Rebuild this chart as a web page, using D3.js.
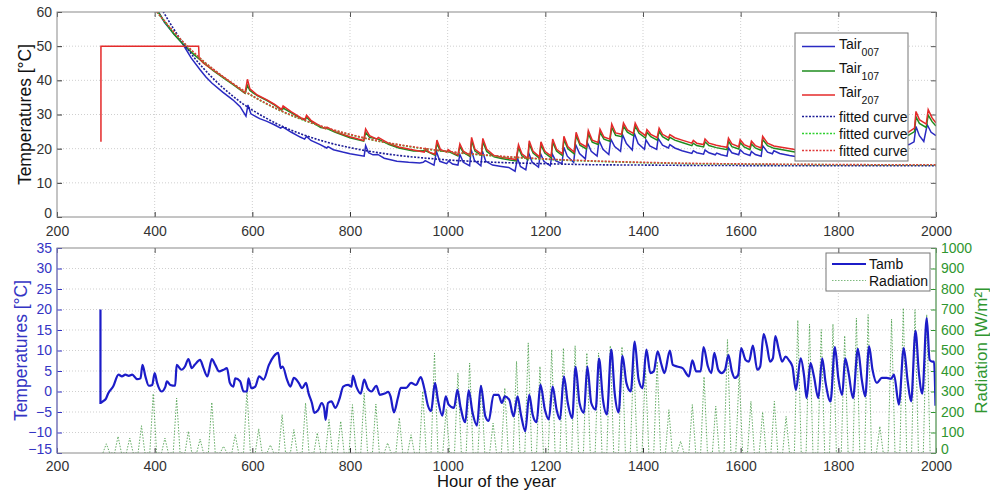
<!DOCTYPE html>
<html>
<head>
<meta charset="utf-8">
<script src="https://cdn.jsdelivr.net/npm/d3@7"></script>
<style>
  body { margin: 0; background: #fff; }
  svg text { font-family: "Liberation Sans", Arial, sans-serif; }
</style>
</head>
<body>
<svg id="chart" width="990" height="495"></svg>
<script>
// --- data ---
const xTicks = [200, 400, 600, 800, 1000, 1200, 1400, 1600, 1800, 2000];
const topTicks = [0, 10, 20, 30, 40, 50, 60];
const tempTicks = [-15, -10, -5, 0, 5, 10, 15, 20, 25, 30, 35];
const radTicks = [0, 100, 200, 300, 400, 500, 600, 700, 800, 900, 1000];

// Tair 007 (blue), [hour, °C]
const tair007 = [[400,62],[420,57],[440,53.5],[456,51],[475,46.5],[493,43.1],[505,41],[517,39.2],[540,36.5],[560,34.3],[575,32.3],[587,29.5],[591,32.8],[597,30.2],[615,28.8],[630,28],[645,27],[658,26],[662,26.4],[680,24.8],[698,23.4],[707,22.8],[711,23.6],[720,22.4],[739,21.2],[752,20.2],[755,20.6],[766,19.7],[785,19],[800,18.5],[829,17.8],[832,20.9],[838,18.8],[847,18.2],[857,18.3],[870,17.2],[896,16.3],[920,16],[943,15.8],[950,16],[954,16.5],[972,15.2],[977,19.2],[984,16.3],[998,15.6],[1002,16.4],[1010,15.5],[1021,15.2],[1025,18.3],[1032,16],[1045,15],[1048,19.8],[1055,16.5],[1068,15],[1071,19.3],[1078,16.3],[1092,15.2],[1110,14.8],[1125,14.5],[1138,13.4],[1143,17.2],[1149,14.8],[1160,13.8],[1166,18.7],[1173,16],[1186,14.6],[1190,18.6],[1197,16.3],[1210,15],[1214,18.5],[1221,16.5],[1234,15.6],[1238,20.4],[1245,17.8],[1258,16],[1262,21.2],[1270,18.6],[1282,17],[1286,21.8],[1294,19.2],[1306,17.8],[1310,22.4],[1318,19.8],[1330,18.3],[1334,22.8],[1342,20.6],[1354,19.2],[1358,24.1],[1366,21.5],[1378,19.6],[1382,24.6],[1390,21.5],[1403,19.8],[1406,22.6],[1414,20.8],[1428,19.8],[1431,23],[1440,21],[1452,20.2],[1455,21.2],[1465,20.2],[1480,19.4],[1500,18.6],[1503,19.4],[1510,18.8],[1524,18.4],[1527,19.6],[1535,18.8],[1548,18.2],[1551,18.7],[1560,18.2],[1572,17.8],[1575,20.2],[1582,18.8],[1596,18.2],[1599,19.7],[1607,18.6],[1619,18],[1622,19.2],[1630,18.3],[1642,17.8],[1645,20.9],[1655,19],[1665,18.5],[1668,19.4],[1680,18.6],[1700,18],[1712,17.7],[1800,19],[1880,20],[1945,21.2],[1955,22],[1959,26.5],[1966,23.8],[1975,22.1],[1982,27],[1990,24.8],[2000,23.8]];

// Tair 107 (green)
const tair107 = [[398,62],[420,57.2],[440,53.4],[460,50.3],[480,47.6],[500,45.2],[520,42.8],[540,40.8],[560,38.8],[585,36.2],[590,38.5],[595,37],[610,35.5],[630,34.1],[645,32.8],[660,31.3],[663,31.9],[680,30.5],[700,28.8],[708,28.3],[711,29.2],[720,28],[740,26.2],[753,25.9],[770,24.8],[800,23.2],[828,22.2],[832,24.8],[840,23.3],[858,22.8],[880,21.2],[900,20.2],[930,19.3],[955,19.4],[974,18.1],[978,21.5],[985,19.3],[1001,19.2],[1021,17.9],[1025,20.6],[1032,18.9],[1046,17.7],[1049,22.3],[1056,19.3],[1069,18],[1072,22],[1080,19.2],[1095,17.6],[1110,17.1],[1140,16.4],[1145,20.3],[1152,17.9],[1164,16.8],[1167,21.4],[1175,18.7],[1188,17.2],[1191,21.1],[1199,18.7],[1212,17.3],[1215,21.9],[1223,19.3],[1235,18],[1238,22.7],[1246,20],[1259,18.5],[1263,23.9],[1271,21],[1284,19.9],[1288,24.4],[1296,21.9],[1308,21.2],[1312,24.8],[1320,22.8],[1332,22.2],[1336,26.2],[1344,23.9],[1356,23.5],[1360,26.6],[1368,24.8],[1380,23.8],[1384,26.6],[1392,24.5],[1405,23.1],[1408,24.8],[1416,23.5],[1429,22.5],[1433,25.1],[1440,23.5],[1452,22.5],[1455,23.3],[1465,22.5],[1480,21.8],[1500,20.9],[1503,21.6],[1510,20.9],[1524,20.5],[1527,22],[1535,20.9],[1550,20.3],[1572,19.7],[1575,22.2],[1582,20.6],[1596,19.9],[1599,21.8],[1607,20.5],[1619,19.7],[1622,21.4],[1630,20.2],[1642,19.5],[1645,22.7],[1655,20.9],[1668,20.1],[1680,19.8],[1708,19.1],[1720,18.8],[1800,20.2],[1880,21.8],[1940,23.6],[1956,25],[1959,29.3],[1966,27.4],[1980,26.2],[1984,29.8],[1992,27.9],[2000,26.6]];

// Tair 207 (red)
const tair207 = [[290,22],[290,50],[490,50],[491,46.5],[500,45],[510,44],[520,43],[540,41],[560,39],[585,36.3],[590,40.3],[595,37.5],[610,35.7],[630,34.3],[645,33],[660,31.5],[663,32.5],[680,30.8],[700,29],[708,28.6],[711,29.8],[720,28.3],[740,26.5],[750,25.8],[753,26.3],[770,25],[800,23.5],[828,22.4],[832,25.8],[840,23.8],[855,22.8],[858,23.3],[880,21.5],[900,20.5],[930,19.6],[952,19],[955,20],[962,19],[974,18.4],[978,22.5],[985,19.8],[998,19],[1001,19.7],[1008,19],[1021,18.2],[1025,21.4],[1032,19.3],[1046,18],[1049,23.3],[1056,19.8],[1069,18.4],[1072,23],[1080,19.8],[1095,18],[1110,17.5],[1140,16.8],[1145,21.2],[1152,18.5],[1164,17.2],[1167,22.3],[1175,19.2],[1188,17.6],[1191,22],[1199,19.2],[1212,17.8],[1215,22.8],[1223,19.8],[1235,18.5],[1238,23.6],[1246,20.6],[1259,19],[1263,24.8],[1271,21.6],[1284,20.5],[1288,25.3],[1296,22.5],[1308,21.8],[1312,25.7],[1320,23.4],[1332,22.8],[1336,27.2],[1344,24.6],[1356,24.2],[1360,27.5],[1368,25.5],[1380,24.5],[1384,27.5],[1392,25.2],[1405,23.8],[1408,25.6],[1416,24.2],[1429,23.2],[1433,26],[1440,24.2],[1452,23.2],[1455,24.1],[1465,23.2],[1480,22.5],[1500,21.6],[1503,22.4],[1510,21.6],[1524,21.2],[1527,22.8],[1535,21.6],[1550,21],[1560,20.7],[1572,20.4],[1575,23.1],[1582,21.4],[1596,20.6],[1599,22.6],[1607,21.2],[1619,20.4],[1622,22.2],[1630,20.9],[1642,20.2],[1645,23.6],[1655,21.6],[1668,20.8],[1680,20.5],[1708,19.8],[1720,19.4],[1800,21],[1880,22.5],[1940,24.5],[1956,26],[1959,30.9],[1966,28.5],[1980,27.2],[1984,31.4],[1992,29],[2000,27.5]];

// fitted curves
const fitHours = [400,410,420,430,440,450,460,470,480,490,500,520,540,560,580,600,625,650,675,700,750,800,850,900,950,1000,1100,1200,1300,1400,1500,1600,1800,2000];
const fit007 = [64.7,62.1,59.5,57.1,54.8,52.6,50.6,48.7,46.8,45.1,43.5,40.5,37.8,35.4,33.2,31.3,29.2,27.3,25.7,24.3,22.0,20.3,19.0,18.0,17.3,16.7,16.0,15.6,15.3,15.2,15.1,15.05,15.0,15.0];
const fit107 = [60.8,59.0,57.3,55.6,54.0,52.4,50.9,49.5,48.1,46.8,45.5,43.2,41.0,39.0,37.1,35.4,33.4,31.6,30.0,28.6,26.1,24.1,22.4,21.1,20.0,19.1,17.8,16.9,16.3,15.9,15.6,15.45,15.3,15.2];
const fit207 = [60.9,59.1,57.4,55.7,54.1,52.5,51.0,49.6,48.2,46.9,45.6,43.3,41.1,39.1,37.2,35.5,33.5,31.7,30.1,28.7,26.2,24.2,22.5,21.2,20.1,19.2,17.9,17.0,16.4,16.0,15.7,15.55,15.35,15.27];

// ambient temperature, [hour, °C]
const tamb = [[289,20],[289,-2.8],[294,-2.4],[300,-1.8],[305,-0.4],[315,1.2],[326,4.1],[333,3.7],[340,4.1],[347,3.8],[354,4.1],[364,3.0],[371,3.2],[375,6.5],[381,3.7],[388,1.4],[395,1.6],[400,4.5],[405,2.1],[414,0.0],[422,1.2],[425,2.5],[432,1.6],[442,1.4],[445,6.5],[455,5.3],[462,6.1],[469,7.9],[476,5.7],[482,6.5],[493,7.7],[500,5.7],[508,3.7],[517,7.9],[524,6.5],[532,4.9],[541,5.3],[548,5.7],[554,2.1],[561,1.2],[565,3.2],[575,2.5],[582,0.0],[589,0.0],[592,3.2],[598,0.8],[606,1.2],[614,3.7],[623,2.9],[634,6.5],[644,8.6],[653,9.4],[658,5.7],[662,6.1],[671,2.9],[678,1.2],[685,3.3],[695,2.1],[702,0.8],[710,2.1],[715,-0.4],[722,-2.8],[727,-5.2],[735,-4.5],[742,-2.8],[747,-4.0],[750,-6.9],[755,-2.8],[762,-2.4],[770,-4.0],[779,-1.6],[786,1.2],[796,1.6],[803,1.2],[806,3.9],[813,1.2],[822,-0.5],[829,2.9],[836,0.8],[844,0.0],[854,1.4],[861,-0.8],[871,-0.5],[878,-0.1],[883,-1.2],[890,-5.1],[898,-1.6],[904,0.9],[915,0.9],[925,2.1],[935,1.6],[945,3.5],[952,0.8],[960,-3.6],[966,-4.8],[974,2.1],[980,-2.0],[989,-5.9],[996,-1.2],[1002,-3.2],[1013,-4.0],[1020,0.4],[1026,-3.6],[1036,-7.5],[1043,0.3],[1051,-5.2],[1060,-8.3],[1068,1.4],[1077,-6.0],[1084,-7.2],[1094,-0.8],[1104,-0.8],[1111,-2.8],[1117,-1.2],[1126,-2.0],[1135,-6.1],[1143,-1.2],[1150,-5.6],[1159,-9.7],[1167,-0.8],[1174,-5.6],[1182,-7.5],[1190,1.7],[1199,-4.4],[1207,-6.8],[1215,1.2],[1223,-4.4],[1230,-6.8],[1238,3.7],[1246,-2.8],[1255,-6.5],[1262,6.0],[1270,-2.8],[1279,-5.2],[1286,6.1],[1294,-2.8],[1303,-4.4],[1310,8.0],[1318,-2.0],[1326,-5.6],[1335,10.2],[1342,-0.4],[1350,-5.1],[1358,8.7],[1366,2.1],[1375,0.0],[1383,12.2],[1391,2.9],[1399,0.8],[1407,10.2],[1415,4.5],[1422,4.9],[1430,9.8],[1437,6.9],[1444,4.5],[1455,10.0],[1461,6.5],[1470,6.1],[1481,5.7],[1494,3.7],[1501,7.6],[1509,4.9],[1518,4.9],[1524,10.8],[1533,6.1],[1540,4.5],[1546,9.4],[1554,5.3],[1561,4.5],[1568,5.3],[1575,8.9],[1582,4.9],[1588,3.3],[1595,4.1],[1601,10.6],[1610,7.7],[1617,7.3],[1625,11.2],[1634,5.3],[1640,6.1],[1647,14.0],[1654,11.0],[1660,7.3],[1666,8.1],[1671,13.5],[1678,10.2],[1685,7.3],[1692,8.5],[1699,7.6],[1706,6.1],[1713,0.4],[1723,8.1],[1730,3.7],[1735,-1.6],[1743,6.9],[1750,3.7],[1759,-1.6],[1767,8.1],[1774,2.1],[1784,-2.4],[1793,10.8],[1800,3.3],[1808,-0.8],[1814,8.1],[1821,4.5],[1830,-1.6],[1840,10.4],[1848,2.9],[1855,-1.2],[1863,11.0],[1870,5.3],[1879,2.1],[1889,3.3],[1899,3.3],[1908,3.1],[1914,4.1],[1924,-3.2],[1934,10.6],[1942,2.5],[1949,-2.4],[1958,14.8],[1965,4.5],[1972,-0.5],[1981,17.9],[1987,7.7],[1992,7.3],[1996,7.3],[1999,-3.5]];

// daily radiation peaks (hour of the peak, W/m²)
const radHours = [301,325,349,373,397,421,445,469,493,517,541,565,589,613,637,661,685,709,733,757,781,805,829,853,877,901,925,949,973,997,1021,1045,1069,1093,1117,1141,1165,1189,1213,1237,1261,1285,1309,1333,1357,1381,1405,1429,1453,1477,1501,1525,1549,1573,1597,1621,1645,1669,1693,1717,1741,1765,1789,1813,1837,1861,1885,1909,1933,1957,1981];
const radPeaks = [45,81,73,133,289,73,268,106,68,247,33,89,309,118,39,187,114,244,98,163,155,236,293,239,49,172,89,301,488,215,390,439,333,146,317,447,537,422,504,512,523,488,488,523,518,471,415,447,211,57,236,372,228,553,390,252,200,252,179,647,629,602,629,572,658,675,130,653,707,699,675];

// --- layout ---
const svg = d3.select("#chart");
const left = 57, right = 936;
const p1 = { top: 12, bottom: 217 };
const p2 = { top: 248, bottom: 453 };

const x = d3.scaleLinear().domain([200, 2000]).range([left, right]);
const y1 = d3.scaleLinear().domain([0, 60]).range([p1.bottom, p1.top]);
const y2 = d3.scaleLinear().domain([-15, 35]).range([p2.bottom, p2.top]);
const yR = d3.scaleLinear().domain([0, 1000]).range([p2.bottom, p2.top]);
const fmt = d3.format("d");

const frameColor = "#8a8a8a";
const gridColor = "#cfcfcf";
const blueLab = "#3434c4";
const greenLab = "#2f962f";

svg.append("rect").attr("width", 990).attr("height", 495).attr("fill", "#fff");

const defs = svg.append("defs");
defs.append("clipPath").attr("id", "clip1").append("rect")
    .attr("x", left).attr("y", p1.top).attr("width", right - left).attr("height", p1.bottom - p1.top);
defs.append("clipPath").attr("id", "clip2").append("rect")
    .attr("x", left).attr("y", p2.top).attr("width", right - left).attr("height", p2.bottom - p2.top);

function grid(p, yScale, ticks) {
    const g = svg.append("g");
    g.selectAll(".gx").data(xTicks.slice(1, -1)).enter().append("line")
        .attr("x1", d => x(d)).attr("x2", d => x(d))
        .attr("y1", p.top).attr("y2", p.bottom)
        .attr("stroke", gridColor).attr("stroke-dasharray", "1,2");
    g.selectAll(".gy").data(ticks.slice(1, -1)).enter().append("line")
        .attr("x1", left).attr("x2", right)
        .attr("y1", d => yScale(d)).attr("y2", d => yScale(d))
        .attr("stroke", gridColor).attr("stroke-dasharray", "1,2");
}
grid(p1, y1, topTicks);
grid(p2, y2, tempTicks);

function styleAxis(g, color) {
    g.select(".domain").remove();
    g.selectAll("line").attr("stroke", color);
    g.selectAll("text").attr("fill", color).style("font-size", "14px");
}
// lift the lowest y label a little so it clears the x labels in the corner
function liftFirst(g) {
    g.selectAll(".tick text").filter((d, i) => i === 0).attr("dy", "0.04em");
}

// top plot axes
svg.append("g").attr("transform", `translate(0,${p1.bottom})`)
    .call(d3.axisBottom(x).tickValues(xTicks).tickFormat(fmt).tickSize(-5).tickPadding(9))
    .call(g => styleAxis(g, "#333"));
svg.append("g").attr("transform", `translate(0,${p1.top})`)
    .call(d3.axisTop(x).tickValues(xTicks).tickSize(-5).tickFormat(""))
    .call(g => styleAxis(g, "#555"));
svg.append("g").attr("transform", `translate(${left},0)`)
    .call(d3.axisLeft(y1).tickValues(topTicks).tickFormat(fmt).tickSize(-5).tickPadding(5))
    .call(g => styleAxis(g, "#333")).call(liftFirst);
svg.append("g").attr("transform", `translate(${right},0)`)
    .call(d3.axisRight(y1).tickValues(topTicks).tickSize(-5).tickFormat(""))
    .call(g => styleAxis(g, "#555"));

// bottom plot axes
svg.append("g").attr("transform", `translate(0,${p2.bottom})`)
    .call(d3.axisBottom(x).tickValues(xTicks).tickFormat(fmt).tickSize(-5).tickPadding(8))
    .call(g => styleAxis(g, "#333"));
svg.append("g").attr("transform", `translate(0,${p2.top})`)
    .call(d3.axisTop(x).tickValues(xTicks).tickSize(-5).tickFormat(""))
    .call(g => styleAxis(g, "#555"));
svg.append("g").attr("transform", `translate(${left},0)`)
    .call(d3.axisLeft(y2).tickValues(tempTicks).tickFormat(fmt).tickSize(-5).tickPadding(5))
    .call(g => styleAxis(g, blueLab)).call(liftFirst);
svg.append("g").attr("transform", `translate(${right},0)`)
    .call(d3.axisRight(yR).tickValues(radTicks).tickFormat(fmt).tickSize(-5).tickPadding(5))
    .call(g => styleAxis(g, greenLab)).call(liftFirst);

// data lines
const line1 = d3.line().x(d => x(d[0])).y(d => y1(d[1]));
const fitGen = d3.line().x(d => x(d[0])).y(d => y1(d[1])).curve(d3.curveMonotoneX);
const fitLine = arr => fitHours.map((h, i) => [h, arr[i]]);

const topG = svg.append("g").attr("clip-path", "url(#clip1)");
topG.append("path").datum(tair007).attr("d", line1)
    .attr("fill", "none").attr("stroke", "#2a2ac2").attr("stroke-width", 1.5);
topG.append("path").datum(tair107).attr("d", line1)
    .attr("fill", "none").attr("stroke", "#1e8c1e").attr("stroke-width", 1.5);
topG.append("path").datum(tair207).attr("d", line1)
    .attr("fill", "none").attr("stroke", "#e42a2a").attr("stroke-width", 1.5);
topG.append("path").datum(fitLine(fit007)).attr("d", fitGen)
    .attr("fill", "none").attr("stroke", "#1c1c96").attr("stroke-width", 1.6).attr("stroke-dasharray", "2,1.5");
topG.append("path").datum(fitLine(fit107)).attr("d", fitGen)
    .attr("fill", "none").attr("stroke", "#2ed02e").attr("stroke-width", 1.6).attr("stroke-dasharray", "2,1.5");
topG.append("path").datum(fitLine(fit207)).attr("d", fitGen)
    .attr("fill", "none").attr("stroke", "#e03a3a").attr("stroke-width", 1.6).attr("stroke-dasharray", "2,1.5");

const bottomG = svg.append("g").attr("clip-path", "url(#clip2)");
const radData = radHours.flatMap((h, i) => [[h - 7, 0], [h, radPeaks[i]], [h + 7, 0]]);
bottomG.append("path").datum(radData)
    .attr("d", d3.line().x(d => x(d[0])).y(d => yR(d[1])))
    .attr("fill", "none").attr("stroke", "#4a9e4a").attr("stroke-width", 1)
    .attr("stroke-dasharray", "1.5,1.5").attr("opacity", 0.85);
bottomG.append("path").datum(tamb)
    .attr("d", d3.line().x(d => x(d[0])).y(d => y2(d[1])).curve(d3.curveMonotoneX))
    .attr("fill", "none").attr("stroke", "#1c1cc8").attr("stroke-width", 2.2);

// frames
[p1, p2].forEach(p => {
    svg.append("rect").attr("x", left).attr("y", p.top)
        .attr("width", right - left).attr("height", p.bottom - p.top)
        .attr("fill", "none").attr("stroke", frameColor);
});
// coloured side rules of the bottom plot
svg.append("line").attr("x1", left).attr("x2", left).attr("y1", p2.top).attr("y2", p2.bottom)
    .attr("stroke", "#6a6ad0");
svg.append("line").attr("x1", right).attr("x2", right).attr("y1", p2.top).attr("y2", p2.bottom)
    .attr("stroke", "#5fb05f");

// axis titles
svg.append("text").attr("transform", `translate(31,${(p1.top + p1.bottom) / 2}) rotate(-90)`)
    .attr("text-anchor", "middle").attr("fill", "#111").style("font-size", "17.5px")
    .text("Temperatures [°C]");
svg.append("text").attr("transform", `translate(27,${(p2.top + p2.bottom) / 2}) rotate(-90)`)
    .attr("text-anchor", "middle").attr("fill", blueLab).style("font-size", "17.5px")
    .text("Temperatures [°C]");
svg.append("text").attr("transform", `translate(987,${(p2.top + p2.bottom) / 2}) rotate(-90)`)
    .attr("text-anchor", "middle").attr("fill", greenLab).style("font-size", "17px")
    .text("Radiation [W/m²]");
svg.append("text").attr("x", (left + right) / 2).attr("y", 487)
    .attr("text-anchor", "middle").attr("fill", "#111").style("font-size", "16.6px")
    .text("Hour of the year");

// top legend
const leg1 = svg.append("g");
leg1.append("rect").attr("x", 795).attr("y", 33).attr("width", 113).attr("height", 128)
    .attr("fill", "#fff").attr("stroke", "#777");
const leg1Items = [
    { name: "Tair", sub: "007", color: "#2a2ac2", dash: null, y: 46.5 },
    { name: "Tair", sub: "107", color: "#1e8c1e", dash: null, y: 71 },
    { name: "Tair", sub: "207", color: "#e42a2a", dash: null, y: 95 },
    { name: "fitted curve", sub: null, color: "#1c1c96", dash: "2,1.5", y: 116.5 },
    { name: "fitted curve", sub: null, color: "#2ed02e", dash: "2,1.5", y: 133.5 },
    { name: "fitted curve", sub: null, color: "#e03a3a", dash: "2,1.5", y: 150.5 }
];
leg1Items.forEach(d => {
    leg1.append("line").attr("x1", 802).attr("x2", 835).attr("y1", d.y).attr("y2", d.y)
        .attr("stroke", d.color).attr("stroke-width", 1.5).attr("stroke-dasharray", d.dash);
    const t = leg1.append("text").attr("x", 839).attr("y", d.sub ? d.y + 2 : d.y + 5)
        .attr("fill", "#111").style("font-size", "14px").text(d.name);
    if (d.sub) t.append("tspan").attr("dy", 7).style("font-size", "10.5px").text(d.sub);
});

// bottom legend
const leg2 = svg.append("g");
leg2.append("rect").attr("x", 826).attr("y", 253).attr("width", 104).attr("height", 38)
    .attr("fill", "#fff").attr("stroke", "#777");
leg2.append("line").attr("x1", 832).attr("x2", 866).attr("y1", 264).attr("y2", 264)
    .attr("stroke", "#1c1cc8").attr("stroke-width", 2);
leg2.append("line").attr("x1", 832).attr("x2", 866).attr("y1", 280.5).attr("y2", 280.5)
    .attr("stroke", "#4a9e4a").attr("stroke-width", 1).attr("stroke-dasharray", "1.5,1.5").attr("opacity", 0.7);
leg2.append("text").attr("x", 869).attr("y", 269).attr("fill", "#111").style("font-size", "14px").text("Tamb");
leg2.append("text").attr("x", 869).attr("y", 285.5).attr("fill", "#111").style("font-size", "14px").text("Radiation");
</script>
</body>
</html>
